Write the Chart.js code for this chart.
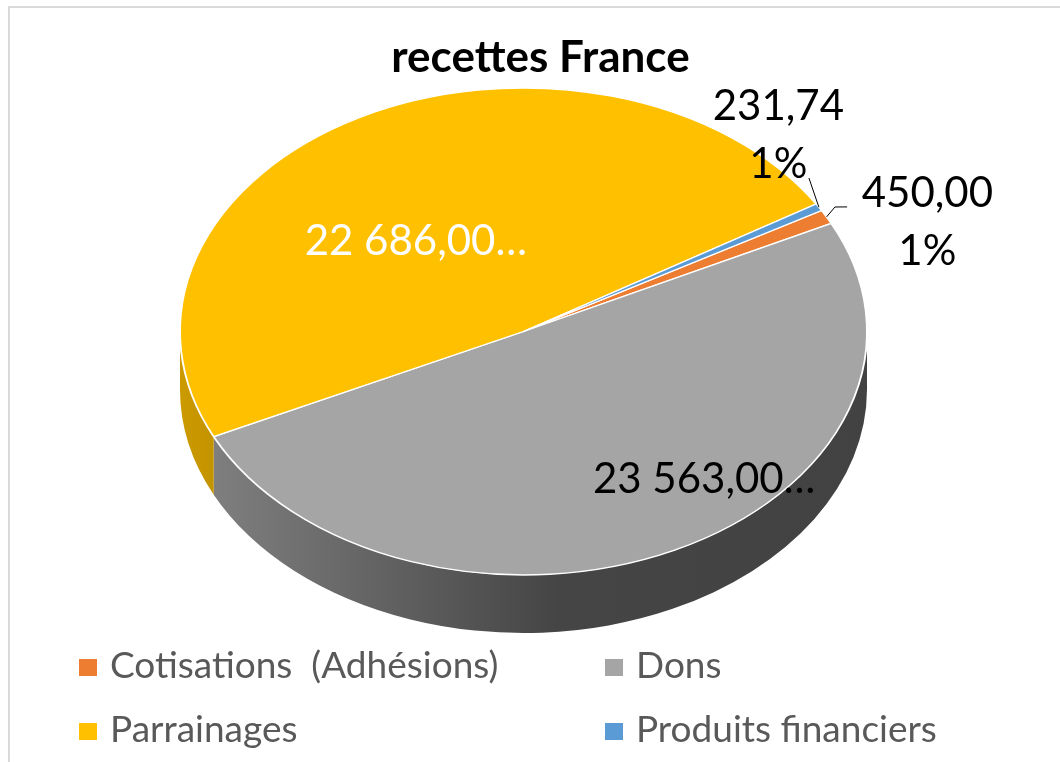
<!DOCTYPE html>
<html lang="fr">
<head>
<meta charset="utf-8">
<title>recettes France</title>
<script src="https://cdn.jsdelivr.net/npm/chart.js@4.4.0/dist/chart.umd.min.js"></script>
<style>
  html, body { margin: 0; padding: 0; background: #fff; }
  canvas { display: block; }
</style>
</head>
<body>
<canvas id="graphique" width="1060" height="762"></canvas>
<script>
// Données
const categories = ["Cotisations  (Adhésions)", "Dons", "Parrainages", "Produits financiers"];
const montants = [450.00, 23563.00, 22686.00, 231.74];
const couleurs = ["#ED7D31", "#A5A5A5", "#FFC000", "#5B9BD5"];

// Mise en page des étiquettes (angle relatif au milieu de la part, rayon relatif)
const DECALAGE_ANGLE = [7.0, -15.1, -11.2, -16.9];
const RAYON_ETIQUETTE = [1.26, 0.80, 0.49, 1.10];
const COULEUR_ETIQUETTE = ["#000", "#000", "#fff", "#000"];
const TRONQUE = [false, true, true, false];
const LIGNES = [[[-1.35, 1.041], [-0.43, 1.072]], null, null, [[-6.5, 1.043]]];

const PROFONDEUR = 58;
const DECALAGE_X = -17;
const DEG = Math.PI / 180;

function format(v) {
    const [ent, dec] = v.toFixed(2).split(".");
    return ent.replace(/\B(?=(\d{3})+(?!\d))/g, " ") + "," + dec;
}

// pourcentages arrondis qui totalisent 100 (comme Excel)
function pourcentages(valeurs) {
    const total = valeurs.reduce((s, v) => s + v, 0);
    const bruts = valeurs.map((v) => (v / total) * 100);
    const res = bruts.map(Math.floor);
    let reste = 100 - res.reduce((s, v) => s + v, 0);
    const ordre = bruts
        .map((b, i) => [b - Math.floor(b), i])
        .sort((a, b) => b[0] - a[0]);
    for (let k = 0; k < reste; k++) res[ordre[k][1]] += 1;
    return res;
}

function nuance(hex, f) {
    const n = parseInt(hex.slice(1), 16);
    const r = Math.round(((n >> 16) & 255) * f);
    const g = Math.round(((n >> 8) & 255) * f);
    const b = Math.round((n & 255) * f);
    return `rgb(${r}, ${g}, ${b})`;
}

function ellipse(chart) {
    const a = chart.chartArea;
    const rx = (a.right - a.left) / 2;
    const ry = (a.bottom - a.top - PROFONDEUR) / 2;
    return { cx: (a.left + a.right) / 2 + DECALAGE_X, cy: a.top + ry, rx, ry };
}

// cadre gris clair
const cadre = {
    id: "cadre",
    beforeDraw(chart) {
        const ctx = chart.ctx;
        ctx.save();
        ctx.strokeStyle = "#d9d9d9";
        ctx.lineWidth = 2;
        ctx.strokeRect(9, 7, 1200, 900);
        ctx.restore();
    },
};

// faux 3D : tranche puis dessus écrasé
const camembert3d = {
    id: "camembert3d",
    beforeDatasetsDraw(chart) {
        const ctx = chart.ctx;
        const e = ellipse(chart);
        const arcs = chart.getDatasetMeta(0).data;

        arcs.forEach((arc, i) => {
            const grad = ctx.createLinearGradient(e.cx - e.rx, 0, e.cx + e.rx, 0);
            grad.addColorStop(0, nuance(couleurs[i], 0.8));
            grad.addColorStop(0.55, nuance(couleurs[i], 0.42));
            grad.addColorStop(1, nuance(couleurs[i], 0.4));
            for (let k = -1; k <= 2; k++) {
                const a0 = Math.max(arc.startAngle, 2 * Math.PI * k);
                const a1 = Math.min(arc.endAngle, 2 * Math.PI * k + Math.PI);
                if (a1 <= a0) continue;
                ctx.beginPath();
                ctx.ellipse(e.cx, e.cy, e.rx, e.ry, 0, a0, a1);
                ctx.ellipse(e.cx, e.cy + PROFONDEUR, e.rx, e.ry, 0, a1, a0, true);
                ctx.closePath();
                ctx.fillStyle = grad;
                ctx.fill();
            }
        });

        const { x, y, outerRadius } = arcs[0];
        ctx.save();
        ctx.translate(e.cx, e.cy);
        ctx.scale(e.rx / outerRadius, e.ry / outerRadius);
        ctx.translate(-x, -y);
    },
    afterDatasetsDraw(chart) {
        chart.ctx.restore();
    },
};

// étiquettes de données
const etiquettes = {
    id: "etiquettes",
    afterDraw(chart) {
        const ctx = chart.ctx;
        const e = ellipse(chart);
        const arcs = chart.getDatasetMeta(0).data;
        const pct = pourcentages(montants);
        const point = (ang, r) => ({
            x: e.cx + r * e.rx * Math.cos(ang),
            y: e.cy + r * e.ry * Math.sin(ang),
        });

        ctx.save();
        ctx.font = "42px Lato";
        ctx.textAlign = "center";
        ctx.textBaseline = "alphabetic";
        arcs.forEach((arc, i) => {
            const milieu = (arc.startAngle + arc.endAngle) / 2;
            if (LIGNES[i]) {
                const p0 = point(milieu, 1);
                ctx.beginPath();
                ctx.moveTo(p0.x, p0.y);
                LIGNES[i].forEach(([d, r]) => {
                    const p = point(milieu + d * DEG, r);
                    ctx.lineTo(p.x, p.y);
                });
                ctx.strokeStyle = "#000";
                ctx.lineWidth = 1;
                ctx.stroke();
            }
            const c = point(milieu + DECALAGE_ANGLE[i] * DEG, RAYON_ETIQUETTE[i]);
            const lignes = TRONQUE[i]
                ? [format(montants[i]) + "…"]
                : [format(montants[i]), pct[i] + "%"];
            ctx.fillStyle = COULEUR_ETIQUETTE[i];
            lignes.forEach((t, j) => {
                const yc = c.y + (j - (lignes.length - 1) / 2) * 58;
                ctx.fillText(t, c.x, yc + 15);
            });
        });
        ctx.restore();
    },
};

// légende sur deux colonnes
const legende = {
    id: "legende",
    afterDraw(chart) {
        const ctx = chart.ctx;
        const colonnes = [79, 605];
        const rangees = [678, 742];
        ctx.save();
        ctx.font = "37px Lato";
        ctx.textBaseline = "alphabetic";
        ctx.textAlign = "left";
        chart.data.labels.forEach((label, i) => {
            const x = colonnes[i % 2];
            const y = rangees[Math.floor(i / 2)];
            ctx.fillStyle = couleurs[i];
            ctx.fillRect(x, y - 19, 18, 17);
            ctx.fillStyle = "#595959";
            ctx.fillText(label, x + 31, y);
        });
        ctx.restore();
    },
};

new Chart(document.getElementById("graphique").getContext("2d"), {
    type: "pie",
    data: {
        labels: categories,
        datasets: [
            {
                data: montants,
                backgroundColor: couleurs,
                borderColor: "#ffffff",
                borderWidth: 1.5,
            },
        ],
    },
    options: {
        responsive: false,
        animation: false,
        rotation: 60.2,
        layout: { padding: { top: 0, left: 197, right: 176, bottom: 129 } },
        plugins: {
            legend: { display: false },
            tooltip: { enabled: false },
            title: {
                display: true,
                text: "recettes France",
                color: "#000",
                font: { family: "Lato", size: 44, weight: "bold", lineHeight: 1.2 },
                padding: { top: 31, bottom: 4.2 },
            },
        },
    },
    plugins: [cadre, camembert3d, etiquettes, legende],
});
</script>
</body>
</html>
